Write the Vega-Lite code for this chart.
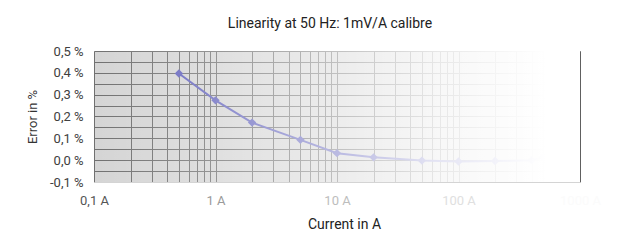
{
  "$schema": "https://vega.github.io/schema/vega-lite/v6.json",
  "width": 486,
  "height": 131,
  "autosize": "none",
  "padding": {"left": 94, "top": 51, "right": 38, "bottom": 61},
  "background": "white",
  "view": {"fill": "#d0d0d0", "stroke": null},
  "title": {
    "text": "Linearity at 50 Hz: 1mV/A calibre",
    "font": "Roboto",
    "fontSize": 14,
    "fontWeight": "normal",
    "color": "#222222",
    "anchor": "middle",
    "offset": 14,
    "dx": -7
  },
  "config": {
    "view": {"fill": "#d0d0d0", "stroke": null},
    "font": "Roboto"
  },
  "layer": [
    {
      "data": {
        "values": [
          {"current": 0.5, "error": 0.397},
          {"current": 1, "error": 0.274},
          {"current": 2, "error": 0.172},
          {"current": 5, "error": 0.093},
          {"current": 10, "error": 0.032},
          {"current": 20, "error": 0.013},
          {"current": 50, "error": -0.002},
          {"current": 100, "error": -0.006},
          {"current": 200, "error": -0.004},
          {"current": 400, "error": 0.0},
          {"current": 500, "error": 0.015}
        ]
      },
      "encoding": {
        "x": {
          "field": "current",
          "type": "quantitative",
          "scale": {"type": "log", "domain": [0.1, 1000], "nice": false},
          "axis": {
            "title": "Current in A",
            "values": [0.1, 0.2, 0.3, 0.4, 0.5, 0.6, 0.7, 0.8, 0.9, 1, 2, 3, 4, 5, 6, 7, 8, 9, 10, 20, 30, 40, 50, 60, 70, 80, 90, 100, 200, 300, 400, 500, 600, 700, 800, 900, 1000],
            "labelExpr": "datum.value == 0.1 ? '0,1 A' : ((datum.value == 1 || datum.value == 10 || datum.value == 100 || datum.value == 1000) ? datum.value + ' A' : '')",
            "labelOverlap": false,
            "labelFlush": false,
            "labelFont": "Roboto",
            "labelFontSize": 13,
            "labelPadding": 12,
            "labelColor": {
              "condition": [
                {"test": "datum.value >= 1000", "value": "#fbfbfb"},
                {"test": "datum.value >= 100", "value": "#e0e0e0"},
                {"test": "datum.value >= 10", "value": "#bdbdbd"},
                {"test": "datum.value >= 1", "value": "#9a9a9a"}
              ],
              "value": "#555555"
            },
            "grid": true,
            "gridColor": "#606060",
            "gridWidth": 1,
            "ticks": false,
            "domain": false,
            "titleFont": "Roboto",
            "titleFontSize": 14,
            "titleFontWeight": "normal",
            "titleColor": "#222222",
            "titlePadding": 10,
            "titleX": 250
          }
        },
        "y": {
          "field": "error",
          "type": "quantitative",
          "scale": {"domain": [-0.1, 0.5], "nice": false, "zero": false},
          "axis": {
            "title": "Error in %",
            "values": [-0.1, -0.05, 0, 0.05, 0.1, 0.15, 0.2, 0.25, 0.3, 0.35, 0.4, 0.45, 0.5],
            "labelExpr": "(round(datum.value * 100) % 10 != 0) ? '' : ((datum.value < 0 ? '-' : '') + replace(format(abs(datum.value), '.1f'), '.', ',') + ' %')",
            "labelOverlap": false,
            "labelFont": "Roboto",
            "labelFontSize": 13,
            "labelColor": "#404040",
            "labelPadding": 11,
            "grid": true,
            "gridColor": {
              "condition": {"test": "datum.value < -0.09", "value": "#d4d4d4"},
              "value": "#606060"
            },
            "gridWidth": 1,
            "ticks": false,
            "domain": false,
            "titleFont": "Roboto",
            "titleFontSize": 13,
            "titleFontWeight": "normal",
            "titleColor": "#333333",
            "titlePadding": 10
          }
        }
      },
      "layer": [
        {"mark": {"type": "line", "color": "#5050b4", "strokeWidth": 2}},
        {"mark": {"type": "point", "shape": "diamond", "filled": true, "size": 70, "color": "#5050b4", "opacity": 1}}
      ]
    },
    {
      "data": {"values": [{"overlay": "fade"}]},
      "mark": {
        "type": "rect",
        "color": {
          "gradient": "linear",
          "x1": 0, "y1": 0, "x2": 1, "y2": 0,
          "stops": [
            {"offset": 0, "color": "rgba(255,255,255,0.1)"},
            {"offset": 0.18, "color": "rgba(255,255,255,0.26)"},
            {"offset": 0.53, "color": "rgba(255,255,255,0.64)"},
            {"offset": 0.71, "color": "rgba(255,255,255,0.85)"},
            {"offset": 0.93, "color": "rgba(255,255,255,1)"},
            {"offset": 1, "color": "rgba(255,255,255,1)"}
          ]
        }
      },
      "encoding": {}
    }
  ]
}
